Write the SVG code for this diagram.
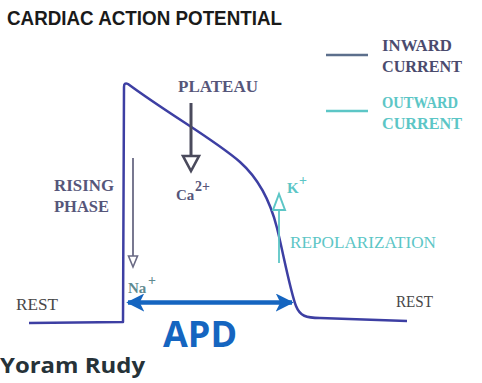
<svg xmlns="http://www.w3.org/2000/svg" width="482" height="383" viewBox="0 0 482 383">
  <style>
    .serif { font-family: "Liberation Serif", "Times New Roman", serif; }
    .b { font-weight: bold; }
    .slate { fill: #56567a; }
    .teal { fill: #5cc6c6; }
    .rest { fill: #474747; font-size: 16px; }
  </style>
  <defs>
    <marker id="apdHead" viewBox="0 0 10 10" refX="9" refY="5" markerWidth="4" markerHeight="4" orient="auto-start-reverse" markerUnits="strokeWidth">
      <path d="M0,0 L10,5 L0,10 L2.5,5 Z" fill="#1565c0"/>
    </marker>
  </defs>

  <rect width="482" height="383" fill="#ffffff"/>

  <!-- title -->
  <text id="title" x="7" y="25" font-family="Liberation Sans, Arial, sans-serif" font-weight="bold" font-size="20" textLength="275" lengthAdjust="spacingAndGlyphs" fill="#1a1a1a">CARDIAC ACTION POTENTIAL</text>

  <!-- legend -->
  <g id="legend">
    <line x1="326" y1="55" x2="368" y2="55" stroke="#5c6f8c" stroke-width="2.5"/>
    <text class="serif b" x="382" y="51" font-size="16" textLength="70" lengthAdjust="spacingAndGlyphs" fill="#4b4b6e">INWARD</text>
    <text class="serif b" x="382" y="72" font-size="16" textLength="80" lengthAdjust="spacingAndGlyphs" fill="#4b4b6e">CURRENT</text>
    <line x1="326" y1="111" x2="368" y2="111" stroke="#5cc6c6" stroke-width="2.5"/>
    <text class="serif b teal" x="382" y="108" font-size="16" textLength="76" lengthAdjust="spacingAndGlyphs">OUTWARD</text>
    <text class="serif b teal" x="382" y="129" font-size="16" textLength="80" lengthAdjust="spacingAndGlyphs">CURRENT</text>
  </g>

  <!-- membrane potential trace -->
  <g id="trace">
    <path d="M29,323 L123,322 L124,87 Q124,82 128,84 C170,115 215,140 240,162 C258,178 270,200 277,228 C283,252 290,290 296,306 C300,316 306,318 320,318 L407,321" fill="none" stroke="#3d3fa3" stroke-width="2.5" stroke-linejoin="round"/>
  </g>

  <!-- rising phase / Na+ inward current -->
  <g id="rising">
    <text class="serif b slate" x="54" y="191" font-size="16" textLength="60" lengthAdjust="spacingAndGlyphs">RISING</text>
    <text class="serif b slate" x="54" y="212" font-size="16" textLength="55" lengthAdjust="spacingAndGlyphs">PHASE</text>
    <line x1="133" y1="158" x2="133" y2="256" stroke="#6a6a84" stroke-width="1.8"/>
    <path d="M128.5,256 L137.5,256 L133,267 Z" fill="#fff" stroke="#6a6a84" stroke-width="1.6"/>
    <text class="serif b" x="128" y="293" font-size="15" fill="#5f8a8f">Na</text>
    <text class="serif b" x="148" y="285" font-size="14" fill="#5f8a8f">+</text>
  </g>

  <!-- plateau / Ca2+ inward current -->
  <g id="plateau">
    <text class="serif b slate" x="178" y="92" font-size="16.5" textLength="80" lengthAdjust="spacingAndGlyphs">PLATEAU</text>
    <line x1="191" y1="103" x2="191" y2="156" stroke="#4a4a5c" stroke-width="3"/>
    <path d="M183,156 L199,156 L191,171 Z" fill="#fff" stroke="#4a4a5c" stroke-width="2.6"/>
    <text class="serif b slate" x="176" y="200" font-size="15">Ca</text>
    <text class="serif b slate" x="195" y="191" font-size="14">2+</text>
  </g>

  <!-- repolarization / K+ outward current -->
  <g id="repolarization">
    <line x1="279" y1="209" x2="279" y2="263" stroke="#5cc6c6" stroke-width="1.8"/>
    <path d="M273,210 L285,210 L279,194 Z" fill="#fff" stroke="#5cc6c6" stroke-width="2"/>
    <text class="serif b teal" x="287" y="193" font-size="15">K</text>
    <text class="serif b teal" x="299" y="185" font-size="14">+</text>
    <text class="serif teal" x="290" y="248" font-size="16.5" textLength="146" lengthAdjust="spacingAndGlyphs">REPOLARIZATION</text>
  </g>

  <!-- resting levels -->
  <g id="rest-labels">
    <text class="serif rest" x="16" y="310" textLength="42" lengthAdjust="spacingAndGlyphs">REST</text>
    <text class="serif rest" x="396" y="307" textLength="37" lengthAdjust="spacingAndGlyphs">REST</text>
  </g>

  <!-- action potential duration -->
  <g id="apd">
    <line x1="128" y1="302.5" x2="292" y2="302.5" stroke="#1565c0" stroke-width="4.5" marker-start="url(#apdHead)" marker-end="url(#apdHead)"/>
    <text x="163" y="347" font-family="Open Sans, sans-serif" font-weight="bold" font-size="36" fill="#1565c0">APD</text>
  </g>

  <text id="credit" x="0" y="373" font-family="Open Sans, sans-serif" font-weight="bold" font-size="22" textLength="145" lengthAdjust="spacingAndGlyphs" fill="#263238">Yoram Rudy</text>
</svg>
